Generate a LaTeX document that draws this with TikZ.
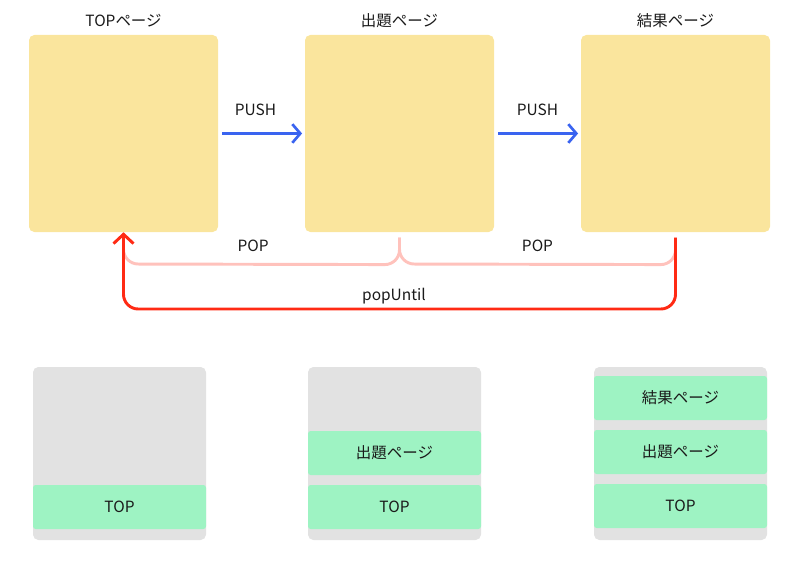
\documentclass[tikz,border=0pt]{standalone}
\usepackage{fontspec}
\setmainfont{Noto Sans CJK JP}
\usetikzlibrary{arrows.meta,positioning}

\definecolor{pageyellow}{HTML}{FAE59D}
\definecolor{stackgray}{HTML}{E2E2E2}
\definecolor{slotgreen}{HTML}{9EF3C3}
\definecolor{pushblue}{HTML}{3A64F0}
\definecolor{popred}{HTML}{FF2A14}
\definecolor{poppink}{HTML}{FFC2BC}
\definecolor{txt}{HTML}{1A1A1A}

\begin{document}
\begin{tikzpicture}[x=0.75pt, y=-0.75pt,
  font=\fontsize{11.6}{13}\selectfont, text=txt,
  page/.style={fill=pageyellow, rounded corners=4pt, inner sep=0pt,
    minimum width=141.75pt, minimum height=147.75pt},
  stack/.style={fill=stackgray, rounded corners=4pt, inner sep=0pt,
    minimum width=129.75pt, minimum height=129.75pt},
  slot/.style={fill=slotgreen, rounded corners=2pt, inner sep=0pt,
    minimum width=129.75pt, minimum height=33pt},
  push/.style={draw=pushblue, line width=2pt, arrows={-Straight Barb[length=6pt, width=14pt]},
    shorten <=3pt, shorten >=2pt},
  pop/.style={draw=poppink, line width=2.2pt, rounded corners=11pt},
  popuntil/.style={draw=popred, line width=2.2pt, rounded corners=11pt,
    arrows={-Straight Barb[length=7pt, width=15pt]}}]
\useasboundingbox (0,0) rectangle (803,563);

% pages
\node[page] at (123.5,133.5) (top) {};
\node[page] at (399.5,133.5) (quiz) {};
\node[page] at (675.5,133.5) (result) {};

\node at (123.5,21) (topTitle) {TOPページ};
\node at (399.5,21) (quizTitle) {出題ページ};
\node at (675.5,21) (resultTitle) {結果ページ};

% push
\draw[push] (top) -- node[pos=0.43, yshift=18pt] {PUSH} (quiz);
\draw[push] (quiz) -- node[pos=0.5, yshift=18pt] {PUSH} (result);

% pop (brace shape)
\draw[pop] ([yshift=-4pt]quiz.south) -- ++(0,27) -- node[pos=0.53, yshift=14pt] {POP} (123.5,264) -- ++(0,-20);
\draw[pop] ([yshift=-4pt]result.south) -- ++(0,27) -- node[pos=0.5, yshift=14pt] {POP} (399.5,264) -- ([yshift=-4pt]quiz.south);

% popUntil
\draw[popuntil] ([yshift=-4pt]result.south) -- (675.5,309)
  -- node[pos=0.51, yshift=10pt] {popUntil} (123.5,309) -- (top.south);

% stacks
\node[stack] at (119.5,453.5) (stackA) {};
\node[slot] at (119.5,507) (stackAtop) {TOP};

\node[stack] at (394.5,453.5) (stackB) {};
\node[slot] at (394.5,453) (stackBquiz) {出題ページ};
\node[slot] at (394.5,507) (stackBtop) {TOP};

\node[stack] at (680.5,453.5) (stackC) {};
\node[slot] at (680.5,398) (stackCresult) {結果ページ};
\node[slot] at (680.5,452) (stackCquiz) {出題ページ};
\node[slot] at (680.5,506) (stackCtop) {TOP};

\end{tikzpicture}
\end{document}
